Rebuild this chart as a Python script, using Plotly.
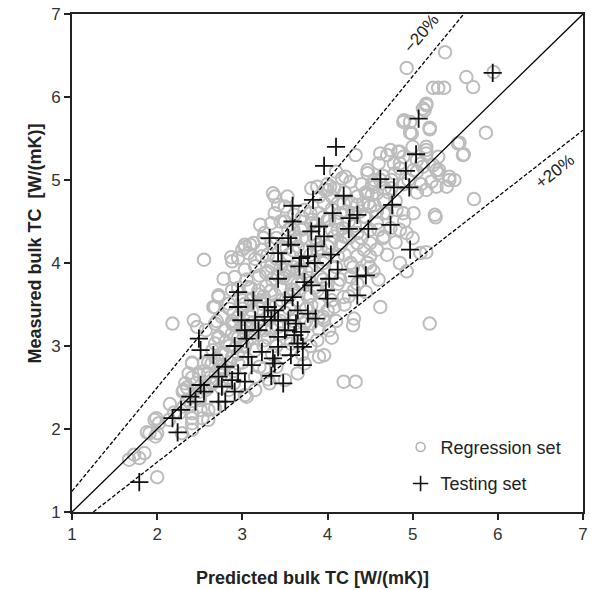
import plotly.graph_objects as go

# Regression set (predicted, measured)
reg_x = [5.16,5.12,4.89,4.97,5.20,4.99,4.33,4.62,4.74,4.83,4.89,5.05,5.16,5.16,5.30,5.53,5.59,4.78,4.85,5.01,5.12,5.28,5.43,5.49,5.22,5.16,5.28,5.40,
         4.47,4.52,4.27,4.17,4.08,4.00,3.81,3.88,3.38,3.42,3.50,3.38,3.34,3.21,3.50,3.61,3.73,3.96,4.19,4.35,4.47,4.58,4.66,4.50,4.66,4.81,4.89,5.01,5.26,
         4.43,4.58,4.74,4.85,4.93,4.66,4.50,4.43,4.35,4.27,4.16,4.12,4.04,5.09,4.93,4.54,4.62,4.31,5.20,4.02,3.96,3.90,4.19,4.33,
         3.26,3.13,3.07,2.95,2.88,3.03,2.55,2.78,2.91,3.03,3.15,3.23,3.28,3.07,2.88,2.72,2.68,2.84,2.95,2.76,2.68,2.80,2.88,2.72,2.68,
         2.18,2.43,2.47,2.57,2.41,2.37,2.33,2.31,2.49,2.60,2.64,2.31,2.41,2.51,2.60,2.68,2.26,2.14,2.02,1.97,1.91,1.98,2.29,2.41,2.53,2.60,
         2.84,3.03,3.15,3.32,3.50,3.81,3.88,3.73,3.65,3.26,3.96,4.08,4.19,4.12,3.92,4.27,4.50,4.58,3.77,3.88,3.61,3.81,3.57,3.50,3.65,3.81,
         3.34,3.19,3.34,3.46,3.23,3.11,3.03,2.88,3.42,3.26,3.03,2.88,2.76,2.64,2.95,3.15,2.80,2.57,3.88,3.96,3.65,4.19,4.35,4.12,4.00,3.81,
         3.69,3.61,3.54,3.34,3.23,3.46,4.35,4.47,4.31,4.00,3.73,3.57,3.26,
         4.93,5.38,5.30,5.24,5.16,5.14,4.90,4.97,5.20,5.63,5.71,5.37,5.95,5.86,5.55,5.60,5.72,5.43,5.31,5.27,5.16,
         2.72,2.66,2.41,2.55,2.41,1.99,1.88,2.00,1.73,1.79,1.85,1.67,2.00,2.41,2.41,3.05,2.87,3.00,3.09,3.03,
         3.36,3.53,3.97,4.03,4.21,4.47,4.55,4.67,4.79,4.85,5.16,5.10,5.24,5.30,
         2.60,2.70,2.75,2.80,2.85,2.90,2.95,3.00,3.00,3.05,3.10,3.10,3.15,3.20,3.20,3.25,3.30,3.30,3.35,3.40,3.40,3.45,3.50,3.50,3.55,3.55,
         3.60,3.60,3.65,3.70,3.70,3.75,3.80,3.80,3.85,3.90,3.95,4.00,4.00,4.05,4.10,4.15,4.20,4.25,4.30,4.35,4.40,4.45,4.55,4.60,
         2.65,2.70,2.85,2.95,3.05,3.15,3.25,3.45,2.50,2.45,2.55,2.35,2.30,2.20,2.15,3.35,3.45,3.55,3.65,3.75,3.90,4.05,4.15,4.25,4.40,
         4.50,4.70,4.75,4.80,4.95,5.05,4.65,4.85,5.00,3.90,4.05,3.70,3.60,3.00,3.10,2.90,2.80,2.75,2.60,2.90,3.20,3.30,3.40,3.50,3.70,
         3.80,3.95,4.10,4.30,4.45,4.60,4.70,4.80,4.90,5.00]
reg_y = [5.92,5.86,5.70,5.70,5.61,5.56,5.30,5.32,5.36,5.34,5.28,5.24,5.40,5.32,5.28,5.44,5.30,5.20,5.14,5.12,5.16,5.12,5.04,5.00,4.98,4.88,4.92,4.92,
         5.12,4.94,4.98,5.02,4.90,4.88,4.90,4.92,4.80,4.70,4.68,4.60,4.48,4.46,4.50,4.58,4.64,4.72,4.72,4.80,4.84,4.84,4.76,4.68,4.60,4.64,4.60,4.60,4.58,
         4.56,4.48,4.42,4.40,4.36,4.32,4.24,4.16,4.08,4.00,4.24,4.08,4.24,4.12,3.90,3.90,3.47,3.33,3.27,3.19,2.89,2.87,2.57,2.57,
         4.36,4.24,4.12,4.06,4.02,4.22,4.04,3.81,3.83,3.92,3.96,4.08,3.88,3.71,3.67,3.61,3.47,3.51,3.35,3.35,3.27,3.19,3.15,3.11,3.03,
         3.27,3.31,3.23,3.19,2.79,2.67,2.55,2.47,2.65,2.67,2.55,2.27,2.19,2.23,2.23,2.25,2.19,2.11,2.07,2.11,1.95,1.91,1.95,2.07,2.13,2.11,
         2.47,2.41,2.47,2.55,2.59,3.27,3.07,2.79,2.67,2.73,3.31,3.47,3.59,3.75,3.83,3.83,4.08,4.16,3.59,3.67,3.67,3.49,3.77,3.92,3.92,3.92,
         3.96,3.67,3.67,3.55,3.51,3.43,3.51,3.27,3.23,3.07,2.99,2.87,2.91,2.79,2.79,2.63,2.59,2.47,4.16,4.04,4.20,4.32,4.36,4.40,4.52,4.48,
         4.40,4.32,4.40,4.24,4.16,4.20,4.24,4.00,3.67,3.43,3.27,3.03,3.19,
         6.35,6.54,6.11,6.11,5.90,5.84,5.72,5.57,5.63,6.24,6.12,6.11,6.30,5.57,5.45,5.31,4.77,5.00,5.12,4.55,4.13,
         3.59,3.47,2.80,2.80,2.62,2.13,1.96,1.95,1.69,1.65,1.71,1.63,1.42,2.13,1.99,2.39,4.07,4.16,4.22,4.19,
         4.84,4.80,4.88,4.92,5.04,5.08,4.92,4.90,5.08,5.34,5.36,5.20,5.18,5.08,
         2.50,2.60,2.75,2.90,3.00,2.70,3.10,2.80,3.00,3.25,3.10,3.35,2.95,3.30,3.45,3.60,3.10,3.35,3.80,3.50,3.00,3.70,3.40,3.85,3.60,4.10,
         3.30,3.95,3.55,3.75,4.30,3.45,4.10,3.60,4.30,3.50,4.00,4.20,3.75,4.40,3.95,4.60,4.10,4.50,3.95,4.70,4.30,4.55,4.70,4.40,
         2.95,3.30,3.45,3.70,3.80,4.05,4.30,4.50,2.45,2.55,2.70,2.35,2.45,2.20,2.30,2.90,3.15,3.25,3.05,3.30,3.20,3.55,3.80,3.60,3.90,
         4.40,4.60,4.90,4.75,5.00,4.85,5.05,5.20,5.40,4.60,4.80,4.55,4.15,3.55,3.70,3.25,3.05,2.50,2.80,2.55,2.75,2.60,2.75,2.95,2.90,
         3.00,3.35,3.30,3.25,3.65,3.80,4.10,4.25,4.50,4.30]

# Regression set, densest core of the cloud (estimated)
core_x = [3.30,3.40,3.45,3.55,3.65,3.75,3.85,3.95,4.05,4.10,4.20,4.30,4.40,4.55,4.60,4.70,4.75,4.90,5.05,5.10,
          4.45,4.25,4.15,3.95,3.85,3.75,3.65,3.55,3.45,3.35,3.25,3.15,3.05,2.95,2.85,2.75,2.65,2.55,2.50,2.40,
          2.35,2.70,2.80,2.90,3.00,3.10,3.20,3.30,3.40,3.60,3.80,3.90,4.00,4.10,3.70,3.90,4.05,4.20,4.35,4.50,4.65,4.85,
          2.62,2.78,2.92,3.02,3.12,3.22,3.28,3.38,3.48,3.58,3.68,3.78,3.88,3.98,4.08,4.18,4.28,4.38,4.48,4.58,
          2.98,3.08,3.18,3.32,3.42,3.52,3.62,3.72,3.82,3.92,4.02,4.12,4.22,4.32,4.42,4.52,4.62,4.72,2.72,2.88]
core_y = [3.90,4.05,3.95,3.90,4.00,4.15,4.45,4.55,4.65,4.50,4.85,4.60,4.95,5.00,5.20,5.30,5.00,4.95,5.10,4.95,
          4.85,4.30,4.20,3.80,3.70,3.90,3.75,3.45,3.30,3.20,3.00,3.20,3.05,2.90,2.80,2.65,2.55,2.50,2.35,2.30,
          2.50,2.85,3.20,3.40,3.45,3.55,3.85,4.10,4.30,4.40,4.60,4.80,4.95,5.10,3.15,3.35,3.10,3.50,3.75,3.95,4.30,4.00,
          2.62,2.72,2.98,3.18,3.28,3.55,3.72,3.62,3.82,3.68,3.92,3.82,4.22,4.05,4.32,4.42,4.72,4.62,4.72,4.62,
          3.22,3.38,3.62,3.48,3.85,4.18,4.28,4.42,4.52,4.18,4.52,4.72,4.62,4.45,4.72,4.82,5.00,4.85,3.10,3.30]

# Testing set (predicted, measured)
test_x = [4.10,3.96,5.07,5.04,4.92,4.62,4.78,4.96,4.76,4.74,4.97,3.59,3.59,3.83,4.19,4.06,4.26,4.35,4.25,4.48,3.81,3.90,3.96,3.32,3.54,
          3.57,3.86,3.42,3.46,3.69,3.77,4.04,3.67,3.85,4.12,4.35,4.45,3.42,3.73,3.81,4.02,3.98,4.00,4.35,2.95,3.13,2.95,3.50,3.59,3.30,
          3.38,3.65,3.77,3.86,2.99,3.15,3.26,3.34,3.42,3.54,3.63,3.03,3.19,3.50,3.61,3.69,3.42,3.65,3.71,3.05,2.49,2.51,2.66,2.91,3.23,
          3.42,3.57,3.07,3.11,3.36,3.38,3.71,2.80,2.95,2.72,2.88,3.03,3.34,3.48,2.51,2.55,2.76,2.91,2.39,2.45,2.72,2.80,2.28,2.18,2.24,
          5.94,1.79]
test_y = [5.40,5.17,5.74,5.31,5.11,5.01,4.91,4.91,4.70,4.46,4.16,4.69,4.50,4.76,4.81,4.60,4.54,4.58,4.41,4.41,4.38,4.44,4.32,4.30,4.30,
          4.22,4.20,4.12,4.02,4.06,4.08,4.10,3.96,4.00,3.92,3.84,3.85,3.81,3.77,3.73,3.81,3.67,3.57,3.61,3.65,3.55,3.47,3.55,3.59,3.47,
          3.43,3.43,3.39,3.33,3.31,3.31,3.35,3.31,3.31,3.31,3.27,3.19,3.19,3.19,3.13,3.17,3.11,3.03,2.99,3.09,3.09,2.95,2.89,3.00,2.93,
          2.99,2.89,2.87,2.77,2.85,2.79,2.77,2.75,2.67,2.63,2.59,2.57,2.64,2.55,2.53,2.45,2.51,2.45,2.39,2.33,2.33,2.33,2.23,2.13,1.96,
          6.29,1.36]

assert len(reg_x) == len(reg_y), (len(reg_x), len(reg_y))
assert len(core_x) == len(core_y), (len(core_x), len(core_y))
assert len(test_x) == len(test_y), (len(test_x), len(test_y))

axis_range = [1, 7]
band_ratios = [1.25, 1.0, 0.8]          # -20 %, 1:1, +20 % lines
band_labels = ["−20%", "", "+20%"]
FONT = "Liberation Sans, Arial, sans-serif"

fig = go.Figure()

fig.add_trace(go.Scatter(x=reg_x + core_x, y=reg_y + core_y, mode="markers", showlegend=False,
                         marker=dict(symbol="circle-open", size=12.5, color="#bcbcbc", line=dict(width=2))))
fig.add_trace(go.Scatter(x=test_x, y=test_y, mode="markers", showlegend=False,
                         marker=dict(symbol="cross-thin-open", size=13, color="#111111", line=dict(width=1.8))))

# reference lines
lo, hi = axis_range
for r in band_ratios:
    if r >= 1:
        xs = [lo, hi / r]
        ys = [lo * r, hi]
    else:
        xs = [lo / r, hi]
        ys = [lo, hi * r]
    fig.add_trace(go.Scatter(x=xs, y=ys, mode="lines", showlegend=False, hoverinfo="skip",
                             line=dict(color="black", width=1.3, dash="solid" if r == 1 else "4px,2px")))

# legend-only traces
fig.add_trace(go.Scatter(x=[None], y=[None], mode="markers", name="Regression set", legendgroup="a",
                         marker=dict(symbol="circle-open", size=9, color="#b0b0b0", line=dict(width=1.5))))
fig.add_trace(go.Scatter(x=[None], y=[None], mode="markers", name="Testing set", legendgroup="b",
                         marker=dict(symbol="cross-thin-open", size=11, color="#111111", line=dict(width=1.6))))

fig.add_annotation(x=5.10, y=6.77, text=band_labels[0], showarrow=False, textangle=-50,
                   font=dict(size=17, color="#222", family=FONT))
fig.add_annotation(x=6.67, y=5.10, text=band_labels[2], showarrow=False, textangle=-38,
                   font=dict(size=17, color="#222", family=FONT))

# axis titles
fig.add_annotation(xref="paper", yref="paper", x=0.471, y=-0.1325, xanchor="center", yanchor="middle",
                   text="<b>Predicted bulk TC [W/(mK)]</b>", showarrow=False,
                   font=dict(size=18, color="#222", family=FONT))
fig.add_annotation(xref="paper", yref="paper", x=-0.0717, y=0.54, xanchor="center", yanchor="middle",
                   text="<b>Measured bulk TC  [W/(mK)]</b>", showarrow=False, textangle=-90,
                   font=dict(size=18, color="#222", family=FONT))

axis_common = dict(range=axis_range, dtick=1, showgrid=False, zeroline=False, showline=True, linecolor="#222",
                   linewidth=2, mirror=True, ticks="outside", ticklen=6, tickwidth=2, tickcolor="#222",
                   tickfont=dict(size=17, color="#333", family=FONT))

fig.update_xaxes(**axis_common)
fig.update_yaxes(**axis_common)

fig.update_layout(
    width=592, height=590,
    margin=dict(l=72, r=4, t=14, b=78),
    plot_bgcolor="white", paper_bgcolor="white",
    legend=dict(x=0.643, y=0.167, xanchor="left", yanchor="top", bgcolor="rgba(0,0,0,0)",
                font=dict(size=18, color="#222", family=FONT),
                tracegroupgap=10, traceorder="grouped", itemwidth=30),
)

fig.write_html("out.html")
